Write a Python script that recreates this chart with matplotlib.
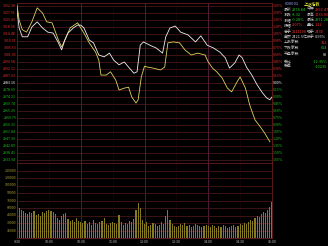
import matplotlib.pyplot as plt
import numpy as np

plt.rcParams['font.family'] = ['Noto Sans CJK SC', 'DejaVu Sans']

prev_close = 2983.16
step_pct = 0.15  # one grid line

# index line (white): minute from 9:30, % change
white_min = [0, 2, 5, 10, 14, 19, 24, 29, 34, 39, 42, 45, 48, 53, 57, 60, 63, 68, 72, 77,
             82, 87, 91, 96, 101, 105, 110, 113, 116, 119, 125, 131, 137, 140, 144, 149, 154, 161, 168, 173,
             179, 185, 191, 196, 200, 205, 209, 212, 216, 221, 226, 231, 235, 238, 240]
white_pct = [1.56, 1.18, 0.99, 0.99, 1.20, 1.31, 1.18, 1.09, 1.07, 0.86, 0.71, 0.92, 1.07, 1.18, 1.24, 1.24, 1.18, 0.92, 0.86, 0.60,
             0.56, 0.64, 0.49, 0.39, 0.45, 0.34, 0.21, 0.24, 0.81, 0.88, 0.81, 0.75, 0.64, 0.99, 1.18, 1.22, 1.09, 1.03, 0.88, 1.01,
             0.81, 0.75, 0.66, 0.54, 0.32, 0.43, 0.60, 0.54, 0.34, 0.17, -0.04, -0.21, -0.32, -0.36, -0.30]

# unweighted line (yellow)
yellow_min = [0, 2, 5, 9, 14, 19, 24, 28, 33, 39, 42, 45, 50, 57, 63, 68, 74, 77, 79, 84,
              88, 93, 96, 101, 105, 108, 112, 114, 117, 120, 123, 128, 135, 139, 142, 147, 153, 158, 164, 170,
              177, 180, 184, 188, 193, 198, 202, 207, 210, 215, 219, 224, 229, 233, 238]
yellow_pct = [1.67, 1.35, 1.14, 1.09, 1.31, 1.61, 1.50, 1.31, 1.29, 0.92, 0.77, 0.92, 1.18, 1.29, 1.07, 0.86, 0.66, 0.49, 0.17, 0.17,
              0.24, 0.06, -0.15, -0.11, -0.09, -0.30, -0.43, -0.36, 0.13, 0.36, 0.34, 0.32, 0.28, 0.34, 0.86, 0.88, 0.86, 0.71, 0.60, 0.64,
              0.60, 0.45, 0.32, 0.24, 0.11, -0.11, -0.19, 0.02, 0.13, -0.11, -0.47, -0.79, -0.94, -1.07, -1.26]

# volume every 2 minutes, thousand lots
vol_k = [72, 60, 56, 54, 50, 48, 52, 50, 54, 46, 48, 44, 52, 50, 54, 56,
         54, 52, 48, 40, 36, 44, 48, 50, 38, 34, 36, 32, 40, 34, 32,
         30, 34, 28, 32, 26, 36, 30, 28, 32, 34, 40, 28, 26, 30, 32,
         30, 28, 46, 32, 26, 30, 28, 34, 32, 38, 56, 70, 60, 36, 28,
         32, 24, 26, 30, 28, 24, 26, 32, 28, 44, 56, 36, 28, 24, 22,
         24, 28, 26, 30, 24, 26, 22, 24, 28, 26, 24, 22, 24, 26, 24,
         22, 26, 24, 20, 24, 22, 26, 24, 20, 22, 24, 26, 22, 24, 28,
         26, 30, 28, 32, 36, 34, 40, 44, 42, 48, 52, 50, 56, 62, 72]
vol_max = 150

time_labels = ['9:30', '10:00', '10:30', '11:00', '13:00', '13:30', '14:00', '14:30', '15:00']

# info panel rows: (y px, label, value, colour, label2, value2, colour2)
info_rows = [
    (10, '最新', '2974.84', '#20d020', '今开', '2992.47', '#ff3030'),
    (15, '涨跌', '-8.32', '#20d020', '最高', '3033.06', '#ff3030'),
    (20, '涨幅', '-0.28%', '#20d020', '最低', '2971.28', '#20d020'),
    (25, '振幅', '2.07%', '#ff3030', '量比', '1.12', '#ff3030'),
    (32, '总手', '2111190', '#ff3030', '现手', '2430', '#ff3030'),
    (37, '金额', '2421.5亿', '#e0e0e0', '换手', '0.95%', '#e0e0e0'),
]
info_rows2 = [
    (43, '上涨家数', '312', '#ff3030'),
    (48, '下跌家数', '654', '#20d020'),
    (55, '平盘家数', '89', '#e0e0e0'),
    (62, '委比', '-12.35%', '#20d020'),
    (67, '委差', '-10235', '#20d020'),
]

W, H = 328, 246
RED = '#e83030'
GREEN = '#20c020'
GRID = '#4a1616'


def box(x0, y0, x1, y1):
    return [x0 / W, 1 - y1 / H, (x1 - x0) / W, (y1 - y0) / H]


fig = plt.figure(figsize=(3.28, 2.46), dpi=100, facecolor='black')
ax = fig.add_axes(box(17, 3, 272, 163), facecolor='black')
axv = fig.add_axes(box(17, 163, 272, 238), facecolor='black')

lim = 80 / 7 * step_pct
ax.set_xlim(0, 240)
ax.set_ylim(-lim, lim)
for k in range(-11, 12):
    y = k * step_pct
    ax.axhline(y, color=GRID, lw=0.6, zorder=1)
    c = RED if k > 0 else (GREEN if k < 0 else '#ffffff')
    ax.text(-0.003, y, f'{prev_close * (1 + y / 100):.2f}', transform=ax.get_yaxis_transform(),
            ha='right', va='center', fontsize=2.6, color=c)
    ax.text(1.004, y, f'{abs(y):.2f}%', transform=ax.get_yaxis_transform(),
            ha='left', va='center', fontsize=2.6, color=c)

for a in (ax, axv):
    for m in (30, 90, 150, 210):
        a.axvline(m, color='#3a1010', lw=0.5, ls=':', zorder=1)
    for m in (60, 120, 180):
        a.axvline(m, color='#5e2040', lw=0.6, zorder=1)
    a.set_xticks([])
    a.set_yticks([])
    for s in a.spines.values():
        s.set_color('#6a1c1c')
        s.set_linewidth(0.6)

ax.plot(yellow_min, yellow_pct, color='#e0d060', lw=0.6, zorder=3)
ax.plot(white_min, white_pct, color='#eeeeee', lw=0.6, zorder=4)

axv.set_xlim(0, 240)
axv.set_ylim(0, vol_max)
for k in range(1, 10):
    v = k * 15
    axv.axhline(v, color=GRID, lw=0.6, zorder=1)
    axv.text(-0.003, v, f'{v * 1000}', transform=axv.get_yaxis_transform(),
             ha='right', va='center', fontsize=2.6, color='#b0a038')
axv.bar(np.arange(0, 241, 2), vol_k, width=1.0, color='#857a22', zorder=2)

for i, lab in enumerate(time_labels):
    axv.text(i * 30, -0.025, lab, transform=axv.get_xaxis_transform(),
             ha='center', va='top', fontsize=2.6, color='#c0c0c0')

# right info panel
fig.text(285 / W, 1 - 4 / H, '000001', fontsize=3, color='#a0a8ff', va='center')
fig.text(304 / W, 1 - 4 / H, '上证指数', fontsize=3, color='#ffff40', va='center')
for y, l1, v1, c1, l2, v2, c2 in info_rows:
    fig.text(284 / W, 1 - y / H, l1, fontsize=2.8, color='#c0c0c0', va='center')
    fig.text(292 / W, 1 - y / H, v1, fontsize=2.8, color=c1, va='center')
    fig.text(307 / W, 1 - y / H, l2, fontsize=2.8, color='#c0c0c0', va='center')
    fig.text(315 / W, 1 - y / H, v2, fontsize=2.8, color=c2, va='center')
for y, l1, v1, c1 in info_rows2:
    fig.text(284 / W, 1 - y / H, l1, fontsize=2.8, color='#c0c0c0', va='center')
    fig.text(327 / W, 1 - y / H, v1, fontsize=2.8, color=c1, va='center', ha='right')

fig.savefig('out.png', dpi=100, facecolor='black')
